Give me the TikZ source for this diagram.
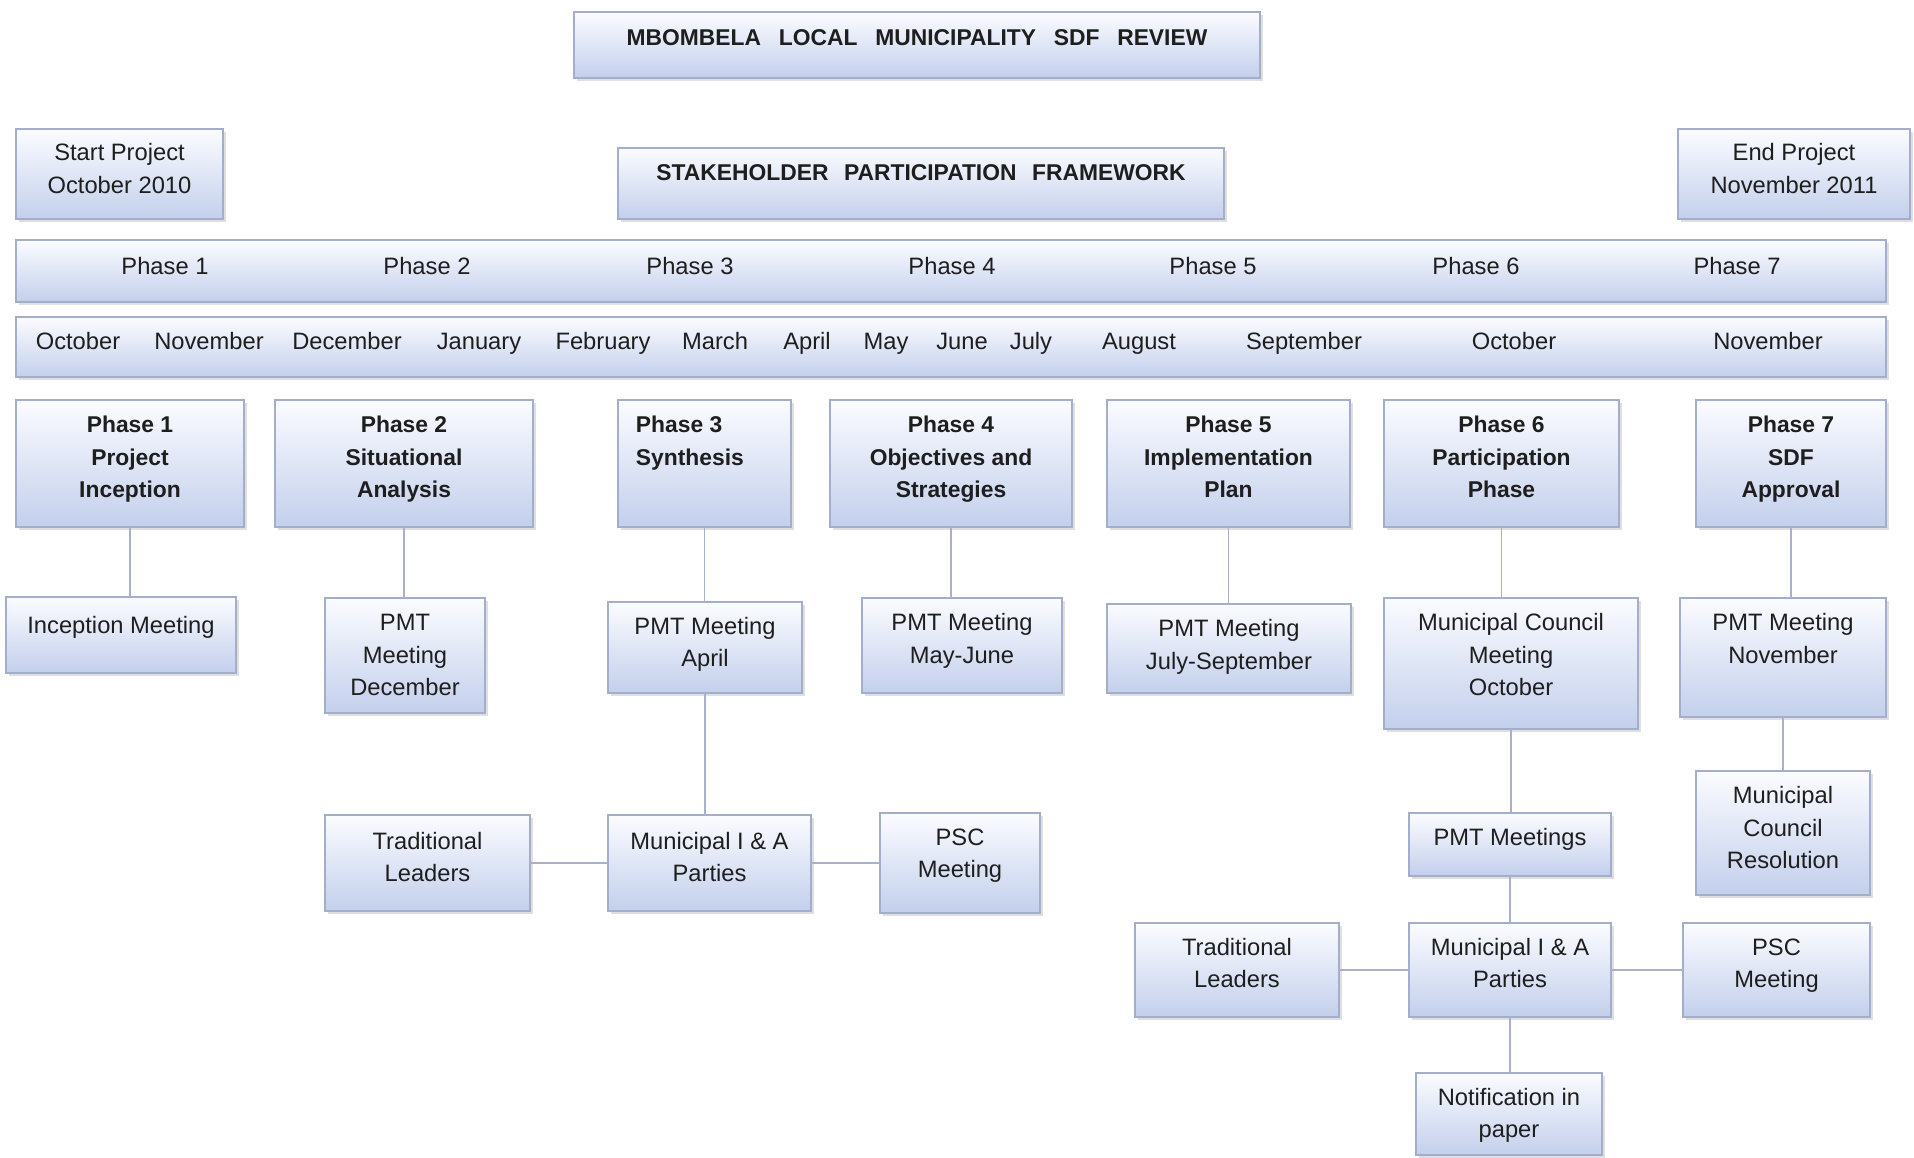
\documentclass[tikz,border=0pt]{standalone}
\usepackage{fontspec}
\setmainfont{Liberation Sans}
\usetikzlibrary{shadows}

\definecolor{boxtop}{HTML}{FBFCFF}
\definecolor{boxbot}{HTML}{C3CFEC}
\definecolor{boxline}{HTML}{A3AECB}
\definecolor{linkcol}{HTML}{A9B0CC}
\definecolor{txt}{HTML}{1E1E1E}

% lines of a box, first baseline is the node's baseline
\newcommand\lines[1]{\begin{tabular}[t]{@{}c@{}}#1\end{tabular}}

\tikzset{
  box/.style={draw=boxline, line width=0.7pt, top color=boxtop, bottom color=boxbot,
    inner sep=0pt, outer sep=0pt, text=txt,
    font=\fontsize{13.5}{18.5}\selectfont,
    drop shadow={opacity=0.25, shadow xshift=1.5pt, shadow yshift=-1.5pt}},
  bold box/.style={box, font=\fontsize{13}{18.5}\selectfont\bfseries},
  % box size in pixels
  wh/.style 2 args={minimum width=#1*0.02cm, minimum height=#2*0.02cm},
  % first baseline above (drop) or below (rise) the box centre, by half the value
  drop/.style={text height=0pt, text depth=#1},
  rise/.style={text height=#1, text depth=0pt},
  bartext/.style={text=txt, font=\fontsize{13.5}{18.5}\selectfont, inner sep=0pt, anchor=base},
  link/.style={draw=linkcol, line width=1pt},
}

\begin{document}
\begin{tikzpicture}[x=0.02cm, y=-0.02cm]
  % page, pixel units, y down
  \fill[white] (0,0) rectangle (1914,1157);
  \useasboundingbox (0,0) rectangle (1914,1157);

  % header
  \node[bold box, wh={686}{66}, rise=0.032cm] (title) at (917,45) {MBOMBELA\hspace{0.5em} LOCAL\hspace{0.5em} MUNICIPALITY\hspace{0.5em} SDF\hspace{0.5em} REVIEW};
  \node[box, wh={207}{90}, drop=0.536cm] (start) at (119.5,174) {\lines{Start Project\\October 2010}};
  \node[bold box, wh={606}{71}, drop=0.136cm] (spf) at (921,183.5) {STAKEHOLDER\hspace{0.4em} PARTICIPATION\hspace{0.4em} FRAMEWORK};
  \node[box, wh={232}{90}, drop=0.536cm] (end) at (1794,174) {\lines{End Project\\November 2011}};

  % phase bar and month bar
  \node[box, wh={1870}{62}] (phasebar) at (951,271) {};
  \node[box, wh={1870}{60}] (monthbar) at (951,347) {};
  \foreach \n/\x in {1/165,2/427,3/690,4/952,5/1213,6/1476,7/1737}
    \node[bartext] (ph\n) at (\x,274) {Phase \n};
  \foreach \m/\x [count=\i] in {October/78,November/209,December/347,January/479,
      February/603,March/715,April/807,May/886,June/962,July/1031,August/1139,
      September/1304,October/1514,November/1768}
    \node[bartext] (mon\i) at (\x,349) {\m};

  % phases
  \node[bold box, wh={228}{127}, drop=1.228cm] (p1) at (130,463.5) {\lines{Phase 1\\Project\\Inception}};
  \node[bold box, wh={258}{127}, drop=1.228cm] (p2) at (404,463.5) {\lines{Phase 2\\Situational\\Analysis}};
  \node[bold box, wh={173}{127}, drop=1.228cm] (p3) at (704.5,463.5) {\hspace*{-16.6pt}\lines{\rlap{Phase 3}\phantom{Synthesis}\\Synthesis}};
  \node[bold box, wh={242}{127}, drop=1.228cm] (p4) at (951,463.5) {\lines{Phase 4\\Objectives and\\Strategies}};
  \node[bold box, wh={243}{127}, drop=1.228cm] (p5) at (1228.5,463.5) {\lines{Phase 5\\Implementation\\Plan}};
  \node[bold box, wh={235}{127}, drop=1.228cm] (p6) at (1501.5,463.5) {\lines{Phase 6\\Participation\\Phase}};
  \node[bold box, wh={190}{127}, drop=1.228cm] (p7) at (1791,463.5) {\lines{Phase 7\\SDF\\Approval}};

  % meetings
  \node[box, wh={230}{76}, drop=0.08cm] (m1) at (121,635) {Inception Meeting};
  \node[box, wh={160}{115}, drop=0.996cm] (m2) at (405,655.5) {\lines{PMT\\Meeting\\December}};
  \node[box, wh={194}{91}, drop=0.532cm] (m3) at (705,647.5) {\lines{PMT Meeting\\April}};
  \node[box, wh={200}{95}, drop=0.596cm] (m4) at (962,645.5) {\lines{PMT Meeting\\May-June}};
  \node[box, wh={244}{89}, drop=0.472cm] (m5) at (1229,648.5) {\lines{PMT Meeting\\July-September}};
  \node[box, wh={254}{131}, drop=1.316cm] (m6) at (1511,663.5) {\lines{Municipal Council\\Meeting\\October}};
  \node[box, wh={206}{119}, drop=1.076cm] (m7) at (1783,657.5) {\lines{PMT Meeting\\November}};

  % phase 3 participants
  \node[box, wh={205}{96}, drop=0.556cm] (trad3) at (427.5,863) {\lines{Traditional\\Leaders}};
  \node[box, wh={203}{96}, drop=0.556cm] (ia3) at (709.5,863) {\lines{Municipal I \& A\\Parties}};
  \node[box, wh={160}{100}, drop=0.704cm] (psc3) at (960,863) {\lines{PSC\\Meeting}};

  % phase 6 and 7 participants
  \node[box, wh={174}{124}, drop=1.164cm] (res7) at (1783,833) {\lines{Municipal\\Council\\Resolution}};
  \node[box, wh={202}{63}, rise=0.036cm] (pmt6) at (1510,844.5) {PMT Meetings};
  \node[box, wh={204}{94}, drop=0.588cm] (trad6) at (1237,970) {\lines{Traditional\\Leaders}};
  \node[box, wh={202}{94}, drop=0.588cm] (ia6) at (1510,970) {\lines{Municipal I \& A\\Parties}};
  \node[box, wh={187}{94}, drop=0.588cm] (psc6) at (1776.5,970) {\lines{PSC\\Meeting}};
  \node[box, wh={186}{82}, drop=0.344cm] (note6) at (1509,1114) {\lines{Notification in\\paper}};

  % connectors
  \foreach \i in {1,...,7}
    \draw[link] (p\i.south) -- (p\i.south |- m\i.north);
  \draw[link] (m3.south) -- (m3.south |- ia3.north);
  \draw[link] (trad3.east) -- (ia3.west);
  \draw[link] (ia3.east) -- (psc3.west);
  \draw[link] (m6.south) -- (m6.south |- pmt6.north);
  \draw[link] (pmt6.south) -- (pmt6.south |- ia6.north);
  \draw[link] (ia6.south) -- (ia6.south |- note6.north);
  \draw[link] (trad6.east) -- (ia6.west);
  \draw[link] (ia6.east) -- (psc6.west);
  \draw[link] (m7.south) -- (m7.south |- res7.north);
\end{tikzpicture}
\end{document}
